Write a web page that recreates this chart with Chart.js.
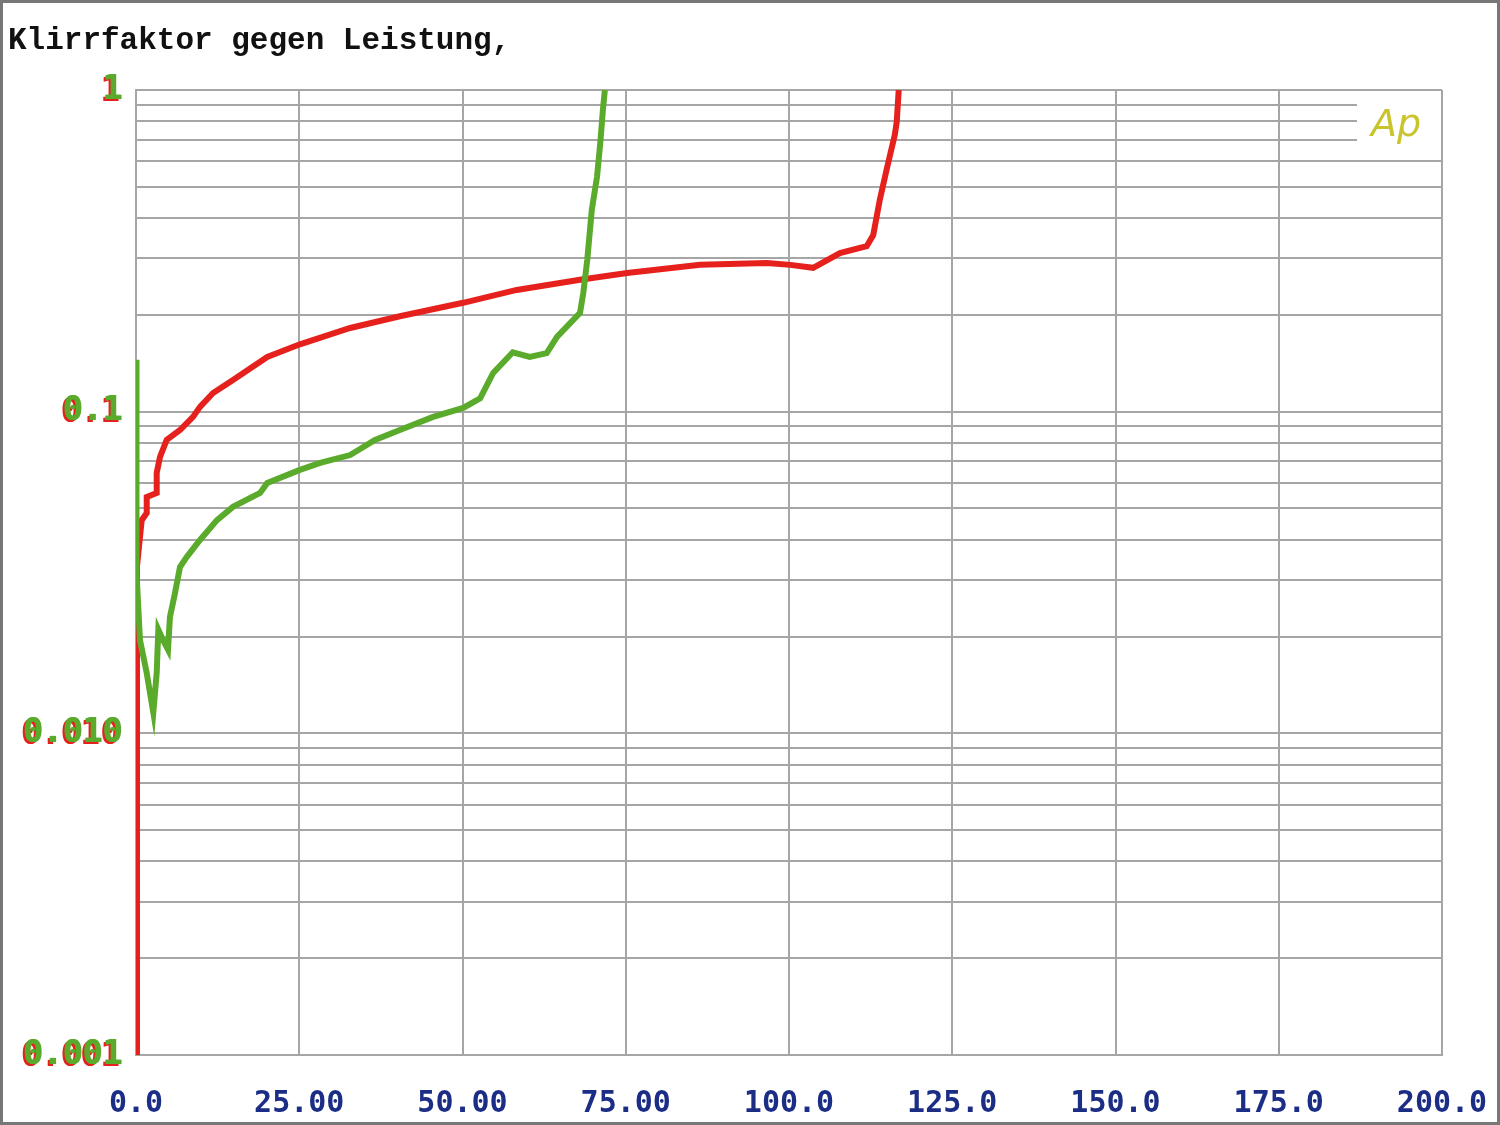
<!DOCTYPE html>
<html>
<head>
<meta charset="utf-8">
<script src="https://cdn.jsdelivr.net/npm/chart.js@4.4.1/dist/chart.umd.min.js"></script>
<style>
  html, body { margin: 0; padding: 0; background: #fff; }
  #chart { display: block; }
</style>
</head>
<body>
<canvas id="chart" width="1500" height="1125"></canvas>
<script>
// chart text
const titleText = 'Klirrfaktor gegen Leistung,';
const logoText = 'Ap';

// x axis ticks (power, W)
const xTickValues = [0, 25, 50, 75, 100, 125, 150, 175, 200];
const xTickLabels = ['0.0', '25.00', '50.00', '75.00', '100.0', '125.0', '150.0', '175.0', '200.0'];

// y axis (THD, %) grid lines and labels
const yGridValues = [
    0.001, 0.002, 0.003, 0.004, 0.005, 0.006, 0.007, 0.008, 0.009,
    0.01, 0.02, 0.03, 0.04, 0.05, 0.06, 0.07, 0.08, 0.09,
    0.1, 0.2, 0.3, 0.4, 0.5, 0.6, 0.7, 0.8, 0.9, 1
];
const yLabelValues = [1, 0.1, 0.01, 0.001];
const yLabelTexts = ['1', '0.1', '0.010', '0.001'];

// green curve
const greenX = [0.02, 0.05, 0.1, 0.61, 1.64, 2.65, 3.17, 3.42, 4.13, 4.9, 5.2, 5.97, 6.74, 7.76, 9.8, 12.4,
    14.85, 19.0, 20.1, 25.1, 28.2, 32.8, 36.6, 40.4, 45.5, 50.1, 52.7, 54.7, 57.7, 60.3, 62.9, 64.5,
    68.0, 68.5, 69.1, 69.8, 70.6, 71.1, 71.5, 71.8];
const greenY = [0.145, 0.06, 0.0315, 0.0195, 0.0154, 0.0116, 0.0154, 0.021, 0.0195, 0.0182, 0.023, 0.0273, 0.0329, 0.0353, 0.0399, 0.046,
    0.0506, 0.0559, 0.060, 0.0659, 0.0693, 0.0733, 0.0817, 0.0877, 0.0963, 0.1027, 0.110, 0.132, 0.153, 0.148, 0.152, 0.171,
    0.203, 0.234, 0.296, 0.424, 0.537, 0.684, 0.867, 1.0];

// red curve
const redX = [0.1, 0.15, 0.87, 1.64, 1.64, 3.17, 3.17, 3.68, 4.7, 6.74, 8.73, 9.8, 11.8, 14.85, 20.1, 25.1,
    32.8, 40.4, 50.1, 58.3, 68.0, 75.2, 86.4, 96.6, 100.2, 103.7, 107.8, 111.9, 112.9, 113.9, 115.0,
    116.2, 116.5, 116.8];
const redY = [0.001, 0.033, 0.046, 0.0484, 0.0543, 0.0559, 0.0645, 0.0723, 0.0817, 0.0877, 0.0963, 0.1035, 0.1143, 0.1255, 0.148, 0.162,
    0.182, 0.198, 0.218, 0.239, 0.257, 0.270, 0.286, 0.290, 0.286, 0.280, 0.311, 0.327, 0.354, 0.455, 0.572,
    0.725, 0.795, 1.0];

const gridColor = '#a6a6a6';
const greenColor = '#5aab2b';
const redColor = '#e6211d';
const xLabelColor = '#1c2d85';

function toPoints(xs, ys) {
    return xs.map((x, i) => ({ x: x, y: ys[i] }));
}

// title, frame, y labels and logo
const decorPlugin = {
    id: 'decor',
    beforeDatasetsDraw(chart) {
        const ctx = chart.ctx;
        const area = chart.chartArea;
        const yScale = chart.scales.y;
        // logo box clears the top grid lines
        const top = yScale.getPixelForValue(0.95);
        const bottom = yScale.getPixelForValue(0.65);
        ctx.save();
        ctx.fillStyle = '#fff';
        ctx.fillRect(area.right - 85, top, 84, bottom - top);
        ctx.fillStyle = '#c9c42c';
        ctx.font = 'italic 38px "DejaVu Sans"';
        ctx.textAlign = 'left';
        ctx.textBaseline = 'alphabetic';
        ctx.fillText(logoText, area.right - 71, yScale.getPixelForValue(0.72));
        ctx.restore();
    },
    afterDraw(chart) {
        const ctx = chart.ctx;
        const area = chart.chartArea;
        const yScale = chart.scales.y;
        ctx.save();
        // outer frame
        ctx.strokeStyle = '#777';
        ctx.lineWidth = 4;
        ctx.strokeRect(1, 1, chart.width - 2, chart.height - 2);
        // title
        ctx.fillStyle = '#111';
        ctx.font = 'bold 31px "Liberation Mono"';
        ctx.textAlign = 'left';
        ctx.textBaseline = 'middle';
        ctx.fillText(titleText, 8, 41);
        // y labels, green with a red shadow
        ctx.font = 'bold 33px "DejaVu Sans Mono"';
        ctx.textAlign = 'right';
        yLabelValues.forEach((v, i) => {
            const y = yScale.getPixelForValue(v);
            ctx.fillStyle = redColor;
            ctx.fillText(yLabelTexts[i], area.left - 16, y + 2);
            ctx.fillStyle = greenColor;
            ctx.fillText(yLabelTexts[i], area.left - 14, y);
            ctx.fillText(yLabelTexts[i], area.left - 13, y);
        });
        ctx.restore();
    }
};

const ctx = document.getElementById('chart').getContext('2d');
const myChart = new Chart(ctx, {
    type: 'line',
    data: {
        datasets: [
            {
                label: 'green',
                data: toPoints(greenX, greenY),
                borderColor: greenColor,
                borderWidth: 6,
                pointRadius: 0,
                tension: 0
            },
            {
                label: 'red',
                data: toPoints(redX, redY),
                borderColor: redColor,
                borderWidth: 6,
                pointRadius: 0,
                tension: 0
            }
        ]
    },
    options: {
        responsive: false,
        animation: false,
        events: [],
        layout: { padding: { top: 90, right: 58, left: 0, bottom: 0 } },
        plugins: {
            legend: { display: false },
            title: { display: false },
            tooltip: { enabled: false }
        },
        scales: {
            x: {
                type: 'linear',
                min: 0,
                max: 200,
                afterBuildTicks: s => { s.ticks = xTickValues.map(v => ({ value: v })); },
                afterFit: s => {
                    s.height = 70;
                    s.paddingLeft = 0;
                    s.paddingRight = 0;
                },
                ticks: {
                    autoSkip: false,
                    maxRotation: 0,
                    padding: 31,
                    color: xLabelColor,
                    font: { family: '"DejaVu Sans Mono"', size: 30, weight: 'bold' },
                    callback: (v, i) => xTickLabels[i]
                },
                grid: { color: gridColor, lineWidth: 2, drawTicks: false },
                border: { color: gridColor, width: 2 }
            },
            y: {
                type: 'logarithmic',
                min: 0.001,
                max: 1,
                afterBuildTicks: s => { s.ticks = yGridValues.map(v => ({ value: v })); },
                afterFit: s => { s.width = 136; },
                ticks: { display: false },
                grid: { color: gridColor, lineWidth: 2, drawTicks: false },
                border: { color: gridColor, width: 2 }
            }
        }
    },
    plugins: [decorPlugin]
});
</script>
</body>
</html>
